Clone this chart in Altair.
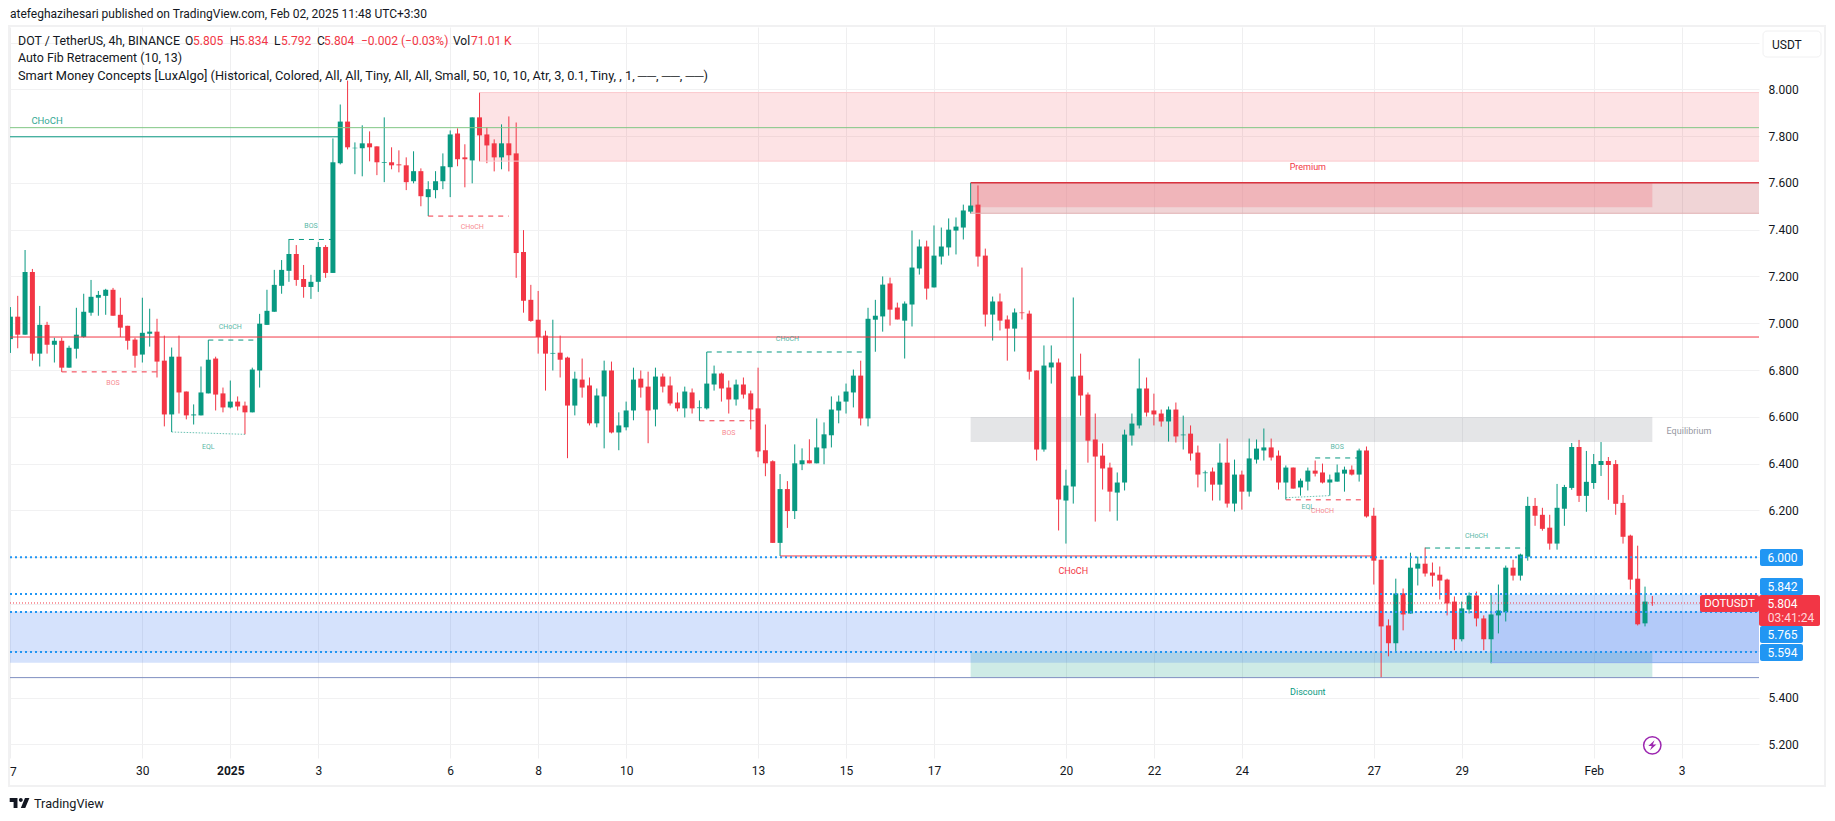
import altair as alt
import pandas as pd

opens = [6.932,7.028,6.951,7.219,6.870,6.993,6.908,6.925,6.810,6.891,
6.941,7.045,7.109,7.117,7.143,7.036,6.989,6.930,6.866,6.955,
6.964,6.840,6.610,6.857,6.708,6.606,6.606,6.700,6.849,6.700,
6.640,6.665,6.648,6.619,6.798,6.993,7.049,7.160,7.224,7.296,
7.189,7.155,7.177,7.326,7.215,7.684,7.862,7.748,7.748,7.769,
7.756,7.685,7.688,7.679,7.675,7.607,7.650,7.539,7.569,7.607,
7.667,7.811,7.709,7.696,7.880,7.807,7.769,7.709,7.769,7.726,
7.304,7.100,7.015,6.947,6.870,6.874,6.853,6.648,6.759,6.734,
6.572,6.687,6.798,6.533,6.555,6.627,6.763,6.729,6.631,6.772,
6.734,6.661,6.636,6.704,6.637,6.636,6.738,6.785,6.725,6.674,
6.738,6.700,6.636,6.457,6.410,6.061,6.291,6.197,6.397,6.414,
6.401,6.465,6.521,6.627,6.665,6.704,6.776,6.593,7.015,7.029,
7.170,7.067,7.011,7.080,7.234,7.328,7.153,7.285,7.324,7.396,
7.409,7.477,7.507,7.289,7.037,7.093,7.016,6.977,7.046,7.041,
6.798,6.460,6.811,6.832,6.242,6.302,6.776,6.695,6.503,6.434,
6.383,6.276,6.319,6.520,6.563,6.721,6.627,6.614,6.580,6.631,
6.521,6.528,6.447,6.359,6.366,6.310,6.404,6.229,6.353,6.280,
6.417,6.456,6.469,6.434,6.319,6.383,6.298,6.323,6.370,6.362,
6.319,6.323,6.357,6.374,6.353,6.456,6.177,5.989,5.708,5.632,
5.845,5.759,5.951,5.972,5.934,5.925,5.904,5.810,5.649,5.776,
5.836,5.738,5.649,5.751,5.764,5.955,5.921,6.002,6.219,6.181,
6.126,6.058,6.207,6.296,6.471,6.262,6.317,6.394,6.411,6.398,
6.232,6.092,5.908,5.717,5.805]

closes = [7.028,6.951,7.219,6.870,6.993,6.908,6.925,6.810,6.895,6.951,
7.049,7.113,7.121,7.143,7.032,6.981,6.925,6.861,6.959,6.964,
6.836,6.610,6.857,6.704,6.606,6.610,6.704,6.844,6.695,6.640,
6.665,6.644,6.619,6.802,6.998,7.053,7.164,7.228,7.296,7.185,
7.155,7.177,7.326,7.215,7.688,7.862,7.752,7.750,7.769,7.752,
7.688,7.688,7.675,7.675,7.603,7.650,7.543,7.573,7.607,7.671,
7.807,7.701,7.701,7.880,7.803,7.760,7.709,7.769,7.718,7.300,
7.096,7.010,6.941,6.870,6.873,6.844,6.648,6.763,6.725,6.572,
6.691,6.798,6.533,6.563,6.627,6.759,6.725,6.627,6.772,6.729,
6.657,6.636,6.708,6.636,6.640,6.742,6.785,6.721,6.674,6.738,
6.695,6.631,6.452,6.401,6.061,6.291,6.197,6.401,6.414,6.401,
6.469,6.525,6.631,6.665,6.708,6.776,6.593,7.019,7.032,7.165,
7.058,7.016,7.084,7.238,7.328,7.148,7.289,7.328,7.400,7.413,
7.482,7.503,7.285,7.037,7.093,7.011,6.977,7.046,7.043,6.793,
6.460,6.819,6.832,6.246,6.306,6.772,6.691,6.498,6.430,6.379,
6.280,6.319,6.524,6.571,6.721,6.618,6.610,6.580,6.631,6.516,
6.524,6.443,6.353,6.362,6.310,6.404,6.229,6.353,6.280,6.422,
6.464,6.469,6.426,6.319,6.383,6.293,6.327,6.370,6.357,6.319,
6.332,6.362,6.374,6.353,6.456,6.174,5.985,5.704,5.632,5.845,
5.755,5.955,5.972,5.930,5.921,5.900,5.802,5.649,5.781,5.836,
5.738,5.649,5.755,5.772,5.955,5.921,6.011,6.219,6.177,6.121,
6.058,6.211,6.300,6.471,6.262,6.322,6.398,6.411,6.394,6.228,
6.087,5.904,5.713,5.810,5.804]

highs = [7.069,7.117,7.313,7.232,7.074,7.006,6.938,6.938,6.904,7.066,
7.126,7.185,7.138,7.147,7.151,7.109,6.989,6.938,7.109,7.062,
7.019,6.947,6.896,6.947,6.708,6.653,6.815,6.928,6.857,6.725,
6.755,6.687,6.665,6.810,7.040,7.143,7.228,7.270,7.360,7.334,
7.249,7.207,7.347,7.334,7.790,7.935,8.037,7.773,7.846,7.820,
7.756,7.880,7.752,7.739,7.709,7.735,7.662,7.607,7.650,7.726,
7.824,7.833,7.765,7.880,7.986,7.837,7.786,7.850,7.884,7.858,
7.398,7.164,7.138,6.968,7.015,6.947,6.857,6.793,6.849,6.768,
6.721,6.840,6.836,6.619,6.665,6.810,6.798,6.793,6.810,6.785,
6.772,6.704,6.729,6.721,6.670,6.877,6.819,6.789,6.755,6.759,
6.768,6.712,6.810,6.567,6.414,6.355,6.325,6.482,6.465,6.504,
6.593,6.576,6.687,6.691,6.742,6.802,6.840,7.066,7.100,7.200,
7.195,7.088,7.093,7.396,7.358,7.353,7.418,7.409,7.448,7.452,
7.507,7.600,7.589,7.319,7.114,7.127,7.033,7.063,7.238,7.054,
6.798,6.905,6.905,6.849,6.374,7.110,6.870,6.704,6.614,6.486,
6.404,6.362,6.545,6.614,6.849,6.768,6.699,6.631,6.644,6.661,
6.605,6.563,6.477,6.370,6.383,6.486,6.507,6.417,6.370,6.507,
6.503,6.550,6.507,6.456,6.392,6.383,6.336,6.383,6.413,6.400,
6.353,6.396,6.387,6.392,6.464,6.473,6.211,5.989,5.734,5.908,
5.866,6.019,6.002,6.041,5.977,5.960,5.908,5.832,5.810,5.849,
5.853,5.751,5.840,5.883,5.964,5.989,6.015,6.258,6.253,6.211,
6.181,6.313,6.309,6.488,6.501,6.454,6.441,6.492,6.428,6.415,
6.266,6.096,6.049,5.874,5.834]

lows = [6.873,6.893,6.951,6.840,6.815,6.870,6.832,6.792,6.810,6.849,
6.938,7.032,7.032,7.036,7.032,6.941,6.887,6.810,6.832,6.900,
6.768,6.559,6.535,6.614,6.589,6.567,6.606,6.700,6.627,6.619,
6.636,6.627,6.525,6.619,6.725,6.993,7.049,7.126,7.177,7.160,
7.109,7.104,7.134,7.194,7.215,7.679,7.743,7.637,7.628,7.692,
7.633,7.603,7.658,7.645,7.569,7.598,7.500,7.458,7.534,7.573,
7.539,7.671,7.581,7.598,7.692,7.684,7.649,7.658,7.649,7.194,
7.045,7.006,6.870,6.712,6.798,6.768,6.423,6.606,6.682,6.563,
6.555,6.465,6.529,6.457,6.542,6.585,6.682,6.487,6.559,6.704,
6.648,6.623,6.597,6.614,6.583,6.631,6.712,6.665,6.614,6.648,
6.678,6.546,6.427,6.346,6.061,6.005,6.125,6.163,6.372,6.401,
6.401,6.397,6.469,6.572,6.614,6.640,6.563,6.559,6.878,6.964,
6.990,7.016,6.849,6.986,7.208,7.101,7.153,7.251,7.289,7.294,
7.358,7.469,7.242,6.986,6.926,6.969,6.840,6.879,7.016,6.759,
6.413,6.451,6.742,6.114,6.058,6.229,6.605,6.404,6.152,6.289,
6.195,6.156,6.285,6.477,6.550,6.601,6.563,6.558,6.494,6.490,
6.460,6.413,6.298,6.280,6.242,6.242,6.212,6.195,6.203,6.259,
6.400,6.413,6.413,6.289,6.246,6.293,6.263,6.285,6.345,6.315,
6.263,6.323,6.280,6.349,6.323,6.169,5.883,5.485,5.576,5.597,
5.687,5.759,5.879,5.917,5.874,5.819,5.751,5.602,5.640,5.759,
5.704,5.602,5.546,5.674,5.725,5.900,5.900,5.985,6.134,6.113,
6.032,6.032,6.134,6.288,6.236,6.194,6.292,6.347,6.245,6.181,
6.058,5.862,5.708,5.704,5.792]

time_ticks = [0,18,30,42,60,72,84,102,114,126,144,156,168,186,198,216,228]
time_labels = ["","30","2025","3","6","8","10","13","15","17","20","22","24","27","29","Feb","3"]
price_ticks = [5.2,5.4,5.6,5.8,6.0,6.2,6.4,6.6,6.8,7.0,7.2,7.4,7.6,7.8,8.0,8.2]

GREEN, RED, BLUE, INK = "#089981", "#f23645", "#2196f3", "#131722"
FONT = "Roboto"
LEFT, RIGHT = -0.055, 238.55
BOTTOM, TOP = 5.1414, 8.2663
OX, OY = 10, 27

zones = pd.DataFrame(
    [
        (64, RIGHT, 7.986, 7.693, "#f23645", 0.14),
        (131, RIGHT, 7.600, 7.470, "#b42832", 0.20),
        (131, 224, 7.600, 7.496, "#f0969e", 0.50),
        (131, 224, 6.599, 6.492, "#787b86", 0.20),
        (131, 224, 5.593, 5.485, "#089981", 0.20),
        (LEFT, RIGHT, 5.768, 5.549, "#2f6cf0", 0.20),
        (202, RIGHT, 5.840, 5.549, "#2f6cf0", 0.20),
    ],
    columns=["i1", "i2", "p1", "p2", "color", "op"],
)

levels = pd.DataFrame(
    [
        (LEFT, RIGHT, 7.836, "#81c784", 1.0),
        (LEFT, RIGHT, 6.941, RED, 1.0),
        (LEFT, RIGHT, 5.485, "#7f8fc0", 1.0),
        (64, RIGHT, 7.986, "#fbc9cd", 1.0),
        (64, RIGHT, 7.693, "#fbc9cd", 1.0),
        (131, RIGHT, 7.600, "#d8333f", 1.5),
        (131, RIGHT, 7.470, "#e0b0b3", 1.0),
        (202, RIGHT, 5.549, "#8fb0ee", 1.0),
        (LEFT, 45, 7.797, GREEN, 1.0),
        (105, 186, 6.005, RED, 1.0),
    ],
    columns=["i1", "i2", "p", "color", "w"],
)

dashed = pd.DataFrame(
    [
        (7, 20, 6.792, RED),
        (38, 44, 7.358, GREEN),
        (27, 34, 6.928, GREEN),
        (57, 68, 7.458, RED),
        (95, 117, 6.877, GREEN),
        (94, 102, 6.583, RED),
        (178, 184, 6.424, GREEN),
        (174, 185, 6.245, RED),
        (193, 207, 6.039, GREEN),
    ],
    columns=["i1", "i2", "p", "color"],
)

eql = pd.DataFrame(
    [(22, 32, 6.535, 6.525), (174, 180, 6.254, 6.263)],
    columns=["i1", "i2", "p1", "p2"],
)

dotted_levels = pd.DataFrame({"p": [6.000, 5.842, 5.765, 5.594], "i1": [LEFT] * 4, "i2": [RIGHT] * 4})
last_price = pd.DataFrame({"p": [5.804], "i1": [LEFT], "i2": [RIGHT]})

labels = pd.DataFrame(
    [
        ("CHoCH", 5, 7.864, GREEN, 9.5, 0.85),
        ("BOS", 14, 6.745, RED, 7, 0.6),
        ("BOS", 41, 7.414, GREEN, 7, 0.7),
        ("CHoCH", 30, 6.983, GREEN, 7, 0.7),
        ("EQL", 27, 6.472, GREEN, 7, 0.7),
        ("CHoCH", 63, 7.410, RED, 7, 0.6),
        ("CHoCH", 106, 6.932, GREEN, 7, 0.7),
        ("BOS", 98, 6.532, RED, 7, 0.6),
        ("BOS", 181, 6.469, GREEN, 7, 0.7),
        ("EQL", 177, 6.215, GREEN, 7, 0.7),
        ("CHoCH", 179, 6.198, RED, 7, 0.6),
        ("CHoCH", 200, 6.090, GREEN, 7, 0.7),
        ("CHoCH", 145, 5.939, RED, 9, 1.0),
        ("Premium", 177, 7.667, RED, 9, 1.0),
        ("Discount", 177, 5.423, GREEN, 9, 1.0),
        ("Equilibrium", 229, 6.540, "#9598a1", 9, 1.0),
    ],
    columns=["text", "i", "p", "color", "size", "op"],
)

candles = pd.DataFrame({"i": range(len(opens)), "o": opens, "h": highs, "l": lows, "c": closes})
candles["top"] = candles[["o", "c"]].max(axis=1)
candles["bot"] = candles[["o", "c"]].min(axis=1)
candles["dir"] = ["up" if c >= o else "down" for o, c in zip(opens, closes)]

xs = alt.Scale(domain=[LEFT, RIGHT], nice=False, zero=False, padding=0)
ys = alt.Scale(domain=[BOTTOM, TOP], nice=False, zero=False, padding=0)
col = alt.Color("dir:N", scale=alt.Scale(domain=["up", "down"], range=[GREEN, RED]), legend=None)

tl = ",".join(f"'{a}':'{b}'" for a, b in zip(time_ticks, time_labels))
x_axis = alt.Axis(
    values=time_ticks, labelExpr="{" + tl + "}['' + datum.value]", title=None, domain=False, ticks=False,
    grid=True, gridColor="#efeff0", gridWidth=1, labelFont=FONT, labelFontSize=12, labelColor=INK,
    labelPadding=7, labelOverlap=False, labelBound=False, labelFlush=False,
    labelFontWeight={"condition": {"test": "datum.value == 30", "value": "bold"}, "value": "normal"},
)
y_axis = alt.Axis(
    values=price_ticks, orient="right", title=None, domain=False, ticks=False,
    labelExpr="datum.value > 8.1 ? '' : format(datum.value, '.3f')",
    grid=True, gridColor="#f1f1f2", gridWidth=1, labelFont=FONT, labelFontSize=12, labelColor=INK,
    labelPadding=9, labelOverlap=False, labelBound=False, labelFlush=False,
)
X = lambda f: alt.X(f, scale=xs, axis=x_axis, title=None)
Y = lambda f: alt.Y(f, scale=ys, axis=y_axis, title=None)

ONE = pd.DataFrame({"k": [0]})


def txt(s, x, y, size=12, color=INK, align="left", weight="normal"):
    return alt.Chart(ONE).mark_text(
        text=s, font=FONT, fontSize=size, color=color, align=align, baseline="middle", fontWeight=weight
    ).encode(x=alt.value(x - OX), y=alt.value(y - OY))


def box(x0, x1, y0, y1, fill, r=2):
    return alt.Chart(ONE).mark_rect(color=fill, cornerRadius=r).encode(
        x=alt.value(x0 - OX), x2=alt.value(x1 - OX), y=alt.value(y0 - OY), y2=alt.value(y1 - OY)
    )


def shape(path, x, y, px, color):
    return alt.Chart(ONE).mark_point(
        shape=path, filled=True, size=px * px, color=color, opacity=1, strokeWidth=0
    ).encode(x=alt.value(x - OX), y=alt.value(y - OY))


layers = []
layers.append(
    alt.Chart(zones).mark_rect().encode(
        x=X("i1:Q"), x2="i2:Q", y=Y("p1:Q"), y2="p2:Q",
        color=alt.Color("color:N", scale=None), opacity=alt.Opacity("op:Q", scale=None),
    )
)
layers.append(
    alt.Chart(candles).mark_rule(strokeWidth=1, clip=True).encode(x=X("i:Q"), y=Y("l:Q"), y2="h:Q", color=col)
)
layers.append(
    alt.Chart(candles).mark_bar(width=5, clip=True).encode(x=X("i:Q"), y=Y("bot:Q"), y2="top:Q", color=col)
)
layers.append(
    alt.Chart(levels).mark_rule().encode(
        x=X("i1:Q"), x2="i2:Q", y=Y("p:Q"),
        color=alt.Color("color:N", scale=None), strokeWidth=alt.StrokeWidth("w:Q", scale=None),
    )
)
layers.append(
    alt.Chart(dashed).mark_rule(strokeDash=[5, 5], strokeWidth=1).encode(
        x=X("i1:Q"), x2="i2:Q", y=Y("p:Q"), color=alt.Color("color:N", scale=None)
    )
)
layers.append(
    alt.Chart(eql).mark_rule(strokeDash=[1.5, 1.5], strokeWidth=1, color=GREEN, opacity=0.6).encode(
        x=X("i1:Q"), x2="i2:Q", y=Y("p1:Q"), y2="p2:Q"
    )
)
layers.append(
    alt.Chart(dotted_levels).mark_rule(strokeDash=[2, 3], strokeWidth=2, color=BLUE).encode(
        x=X("i1:Q"), x2="i2:Q", y=Y("p:Q")
    )
)
layers.append(
    alt.Chart(last_price).mark_rule(strokeDash=[1, 2], strokeWidth=1, color=RED).encode(
        x=X("i1:Q"), x2="i2:Q", y=Y("p:Q")
    )
)
layers.append(
    alt.Chart(labels).mark_text(font=FONT, baseline="middle", align="center").encode(
        x=X("i:Q"), y=Y("p:Q"), text="text:N",
        color=alt.Color("color:N", scale=None),
        size=alt.Size("size:Q", scale=None),
        opacity=alt.Opacity("op:Q", scale=None),
    )
)

layers.append(
    alt.Chart(ONE).mark_rect(fill="transparent", stroke="#f1f1f2", strokeWidth=2).encode(
        x=alt.value(9 - OX), x2=alt.value(1825 - OX), y=alt.value(26 - OY), y2=alt.value(786 - OY)
    )
)

layers.append(txt("atefeghazihesari published on TradingView.com, Feb 02, 2025 11:48 UTC+3:30", 10, 14, 12))
layers.append(txt("DOT / TetherUS, 4h, BINANCE", 18, 41, 12.4))
for s, x, c in [
    ("O", 185, INK), ("5.805", 193, RED), ("H", 230, INK), ("5.834", 238, RED),
    ("L", 274, INK), ("5.792", 281, RED), ("C", 317, INK), ("5.804", 324, RED),
    ("\u22120.002 (\u22120.03%)", 361, RED), ("Vol", 453, INK), ("71.01 K", 471, RED),
]:
    layers.append(txt(s, x, 41, 12, c))
layers.append(txt("Auto Fib Retracement (10, 13)", 18, 58, 12.4))
layers.append(txt(
    "Smart Money Concepts [LuxAlgo] (Historical, Colored, All, All, Tiny, All, All, Small, 50, 10, 10, Atr, 3, 0.1, Tiny, , 1, \u2500\u2500, \u2500\u2500, \u2500\u2500)",
    18, 76, 12.8,
))

layers.append(txt("7", 10, 772, 12))

layers.append(
    alt.Chart(ONE).mark_rect(fill="white", stroke="#f0f0f1", strokeWidth=1, cornerRadius=4).encode(
        x=alt.value(1763 - OX), x2=alt.value(1821 - OX), y=alt.value(31 - OY), y2=alt.value(57 - OY)
    )
)
layers.append(txt("USDT", 1772, 44.5, 12))

for s, y0, y1 in [("6.000", 549, 566), ("5.842", 578, 595), ("5.765", 626, 643), ("5.594", 644, 661)]:
    layers.append(box(1760, 1803, y0, y1, BLUE))
    layers.append(txt(s, 1782.5, (y0 + y1) / 2, 12, "white", "center"))
layers.append(box(1700, 1759, 595, 612, RED))
layers.append(txt("DOTUSDT", 1729.5, 603.5, 11.5, "white", "center"))
layers.append(box(1759, 1820, 595, 626, RED))
layers.append(txt("5.804", 1782.5, 603.5, 12, "white", "center"))
layers.append(txt("03:41:24", 1791, 618, 12, "#ffd6da", "center"))

layers.append(
    alt.Chart(ONE).mark_point(shape="circle", filled=False, size=300, color="#9c27b0", strokeWidth=1.5, opacity=1).encode(
        x=alt.value(1652.3 - OX), y=alt.value(745.3 - OY)
    )
)
layers.append(shape("M.45 -1L-.8 .15H-.1L-.45 1L.8 -.15H.1Z", 1652.3, 745.3, 10, "#9c27b0"))

LOGO = (
    "M-1 -.5H-.222V.5H-.611V-.111H-1Z"
    "M.111 .5L.528 -.5H.972L.556 .5Z"
    "M-.083 -.306A.194 .194 0 1 0 .305 -.306A.194 .194 0 1 0 -.083 -.306Z"
)
layers.append(shape(LOGO, 19.7, 803, 20, INK))
layers.append(txt("TradingView", 34, 804, 12.7))

chart = (
    alt.layer(*layers)
    .properties(
        width=1749,
        height=731,
        padding={"left": 2, "top": 19, "right": 68, "bottom": 56},
        autosize=alt.AutoSizeParams(type="none"),
    )
    .configure_view(strokeWidth=0)
)
chart.save("out.html", embed_options={"renderer": "svg", "actions": False})
